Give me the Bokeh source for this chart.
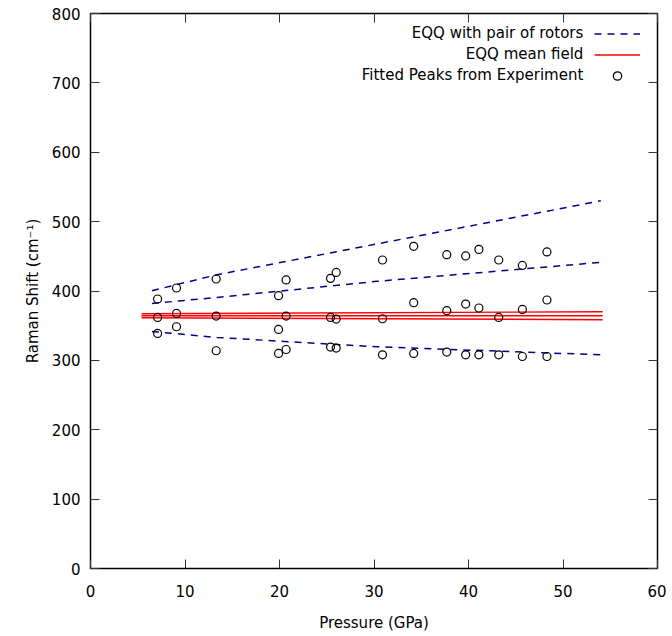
from bokeh.plotting import figure
from bokeh.models import (Range1d, LinearAxis, FixedTicker, Legend, LegendItem,
                          Label, ColumnDataSource, CustomJSTickFormatter)
from bokeh.embed import file_html
from bokeh.resources import INLINE

# ---- data ----
# Fitted peaks from experiment (pressure GPa, Raman shift cm^-1)
exp_pressure = [7.1, 7.1, 7.1, 9.1, 9.1, 9.1, 13.3, 13.3, 13.3,
                19.9, 19.9, 19.9, 20.7, 20.7, 20.7, 25.4, 25.4, 25.4,
                26.0, 26.0, 26.0, 30.9, 30.9, 30.9, 34.2, 34.2, 34.2,
                37.7, 37.7, 37.7, 39.7, 39.7, 39.7, 41.1, 41.1, 41.1,
                43.2, 43.2, 43.2, 45.7, 45.7, 45.7, 48.3, 48.3, 48.3]
exp_shift = [388.5, 361.9, 338.8, 404.3, 367.7, 348.5, 417.3, 363.9, 313.9,
             393.2, 344.6, 310.0, 415.9, 363.9, 315.7, 418.2, 361.9, 319.2,
             426.8, 359.6, 317.7, 444.7, 360.0, 308.0, 464.4, 383.1, 310.0,
             452.4, 371.6, 312.0, 450.5, 381.2, 308.0, 460.0, 375.5, 308.0,
             444.7, 361.9, 308.0, 436.9, 373.4, 305.6, 456.3, 387.0, 305.6]

# EQQ with pair of rotors (three branches)
rotor_pressure = [6.5, 13.4, 30.3, 54.0]
rotor_upper = [400.4, 423.5, 467.8, 530.0]
rotor_middle = [382.0, 390.8, 413.9, 441.3]
rotor_lower = [341.7, 333.0, 319.6, 308.0]

# EQQ mean field (three branches)
mean_pressure = [5.4, 54.2]
mean_a = [367.3, 370.1]
mean_b = [364.4, 364.4]
mean_c = [361.5, 358.6]

x_ticks = [0, 10, 20, 30, 40, 50, 60]
y_ticks = [0, 100, 200, 300, 400, 500, 600, 700, 800]

legend_labels = ["EQQ with pair of rotors", "EQQ mean field",
                 "Fitted Peaks from Experiment"]

FONT = "DejaVu Sans"
BLUE = "#00008b"
RED = "#ff0000"

p = figure(width=666, height=634, output_backend="svg", toolbar_location=None,
           x_range=Range1d(0, 60), y_range=Range1d(0, 800),
           min_border_left=90, min_border_right=9, min_border_top=13,
           min_border_bottom=66)
p.background_fill_color = "white"
p.border_fill_color = "white"
p.grid.visible = False
p.outline_line_color = "black"
p.outline_line_width = 1.5

# mean-field lines
red_rs = []
for ys in (mean_a, mean_b, mean_c):
    r = p.line(mean_pressure, ys, line_color=RED, line_width=1.4)
    red_rs.append(r)

# pair-of-rotors dashed lines
blue_rs = []
for ys in (rotor_upper, rotor_middle, rotor_lower):
    r = p.line(rotor_pressure, ys, line_color=BLUE, line_width=1.5,
               line_dash="7 6")
    blue_rs.append(r)

src = ColumnDataSource(dict(x=exp_pressure, y=exp_shift))
circ = p.scatter("x", "y", source=src, marker="circle", size=8,
                 fill_color=None, line_color="black", line_width=1.2)

# axes styling
def style_axis(ax, show_labels=True):
    ax.axis_line_color = None
    ax.major_tick_in = 9
    ax.major_tick_out = 0
    ax.minor_tick_line_color = None
    ax.major_tick_line_color = "#333333"
    ax.major_tick_line_width = 1
    if show_labels:
        ax.major_label_text_font = FONT
        ax.major_label_text_font_size = "15px"
        ax.major_label_text_color = "black"
        ax.axis_label_text_font = FONT
        ax.axis_label_text_font_size = "15px"
        ax.axis_label_text_font_style = "normal"
        ax.axis_label_text_color = "black"
    else:
        ax.formatter = CustomJSTickFormatter(code="return ''")
        ax.major_label_standoff = 0

p.xaxis.ticker = FixedTicker(ticks=x_ticks)
p.yaxis.ticker = FixedTicker(ticks=y_ticks)
p.xaxis.axis_label = "Pressure (GPa)"
p.yaxis.axis_label = "Raman Shift (cm\u207b\u00b9)"
style_axis(p.xaxis[0])
style_axis(p.yaxis[0])
p.xaxis.major_label_standoff = 16
p.xaxis.axis_label_standoff = 14
p.yaxis.major_label_standoff = 10
p.yaxis.axis_label_standoff = 7

top_ax = LinearAxis(ticker=FixedTicker(ticks=x_ticks))
right_ax = LinearAxis(ticker=FixedTicker(ticks=y_ticks))
style_axis(top_ax, show_labels=False)
style_axis(right_ax, show_labels=False)
p.add_layout(top_ax, "above")
p.add_layout(right_ax, "right")

# legend: samples via Legend (right side), texts via right-aligned labels
legend = Legend(items=[LegendItem(label=" ", renderers=[blue_rs[0]]),
                       LegendItem(label=" ", renderers=[red_rs[1]]),
                       LegendItem(label=" ", renderers=[circ])],
                location="top_right", glyph_width=46, glyph_height=21,
                label_height=21, label_width=0, label_standoff=7,
                label_text_font_size="1px", spacing=0, padding=0, margin=10,
                background_fill_alpha=0, border_line_alpha=0)
p.add_layout(legend)

label_y = [772.3, 742.0, 710.7]
for txt, yy in zip(legend_labels, label_y):
    p.add_layout(Label(x=52.15, y=yy, text=txt, text_align="right",
                       text_baseline="middle", text_font=FONT,
                       text_font_size="15px", text_color="black"))

open("out.html", "w").write(file_html(p, INLINE))
